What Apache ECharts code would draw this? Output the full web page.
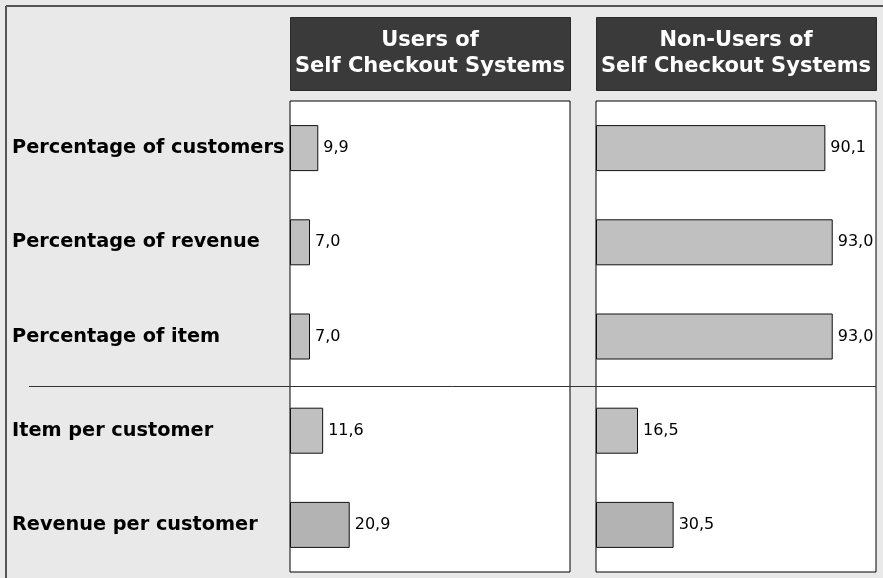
<!DOCTYPE html>
<html>
<head>
<meta charset="utf-8">
<script src="https://cdn.jsdelivr.net/npm/echarts@6/dist/echarts.min.js"></script>
<style>
html,body{margin:0;padding:0;background:#e9e9e9;}
#c{width:883px;height:578px;}
</style>
</head>
<body>
<div id="c"></div>
<script>
var categories = ["Percentage of customers", "Percentage of revenue", "Percentage of item", "Item per customer", "Revenue per customer"];
var usersValues = [9.9, 7.0, 7.0, 11.6, 20.9];
var nonUsersValues = [90.1, 93.0, 93.0, 16.5, 30.5];
var panelTitles = ["Users of\nSelf Checkout Systems", "Non-Users of\nSelf Checkout Systems"];

var chart = echarts.init(document.getElementById('c'), null, {renderer: 'canvas'});

function fmt(p) { return p.value.toFixed(1).replace('.', ','); }
function barColor(p) { return p.dataIndex === categories.length - 1 ? '#b3b3b3' : '#c0c0c0'; }

function makeSeries(idx, values) {
  return {
    type: 'bar',
    xAxisIndex: idx,
    yAxisIndex: idx,
    data: values,
    barWidth: 46,
    itemStyle: {color: barColor, borderColor: '#111', borderWidth: 1},
    label: {
      show: true, position: 'right', distance: 5, formatter: fmt,
      color: '#000', fontFamily: 'DejaVu Sans', fontSize: 16
    },
    silent: true,
    animation: false
  };
}

var gridTop = 101, gridBottom = 6;
var option = {
  backgroundColor: '#e9e9e9',
  animation: false,
  grid: [
    {left: 290, right: 313, top: gridTop, bottom: gridBottom, show: true, backgroundColor: '#fff', borderColor: '#000', borderWidth: 1},
    {left: 596, right: 7, top: gridTop, bottom: gridBottom, show: true, backgroundColor: '#fff', borderColor: '#000', borderWidth: 1}
  ],
  xAxis: [
    {gridIndex: 0, type: 'value', min: 0, max: 98, show: false},
    {gridIndex: 1, type: 'value', min: 0, max: 110, show: false}
  ],
  yAxis: [
    {gridIndex: 0, type: 'category', data: categories, inverse: true,
     axisLine: {show: false}, axisTick: {show: false},
     axisLabel: {show: true, align: 'left', margin: 278, color: '#000', fontFamily: 'DejaVu Sans', fontWeight: 'bold', fontSize: 19.3}},
    {gridIndex: 1, type: 'category', data: categories, inverse: true,
     axisLine: {show: false}, axisTick: {show: false}, axisLabel: {show: false}}
  ],
  series: [makeSeries(0, usersValues), makeSeries(1, nonUsersValues)],
  graphic: [
    {type: 'line', shape: {x1: 6, y1: 6, x2: 883, y2: 6}, style: {stroke: '#555', lineWidth: 2}, z: 100},
    {type: 'line', shape: {x1: 6, y1: 6, x2: 6, y2: 578}, style: {stroke: '#555', lineWidth: 2}, z: 100},
    {type: 'line', shape: {x1: 29, y1: 386.5, x2: 876, y2: 386.5}, style: {stroke: '#333', lineWidth: 1}, z: 100},
    {type: 'rect', shape: {x: 290.5, y: 17.5, width: 280, height: 73}, style: {fill: '#3a3a3a', stroke: '#2a2a2a', lineWidth: 1}, z: 100},
    {type: 'text', x: 430, y: 54, style: {text: panelTitles[0], fill: '#fff', font: 'bold 21px "DejaVu Sans"', lineHeight: 26, align: 'center', verticalAlign: 'middle'}, z: 101},
    {type: 'rect', shape: {x: 596.5, y: 17.5, width: 280, height: 73}, style: {fill: '#3a3a3a', stroke: '#2a2a2a', lineWidth: 1}, z: 100},
    {type: 'text', x: 736, y: 54, style: {text: panelTitles[1], fill: '#fff', font: 'bold 21px "DejaVu Sans"', lineHeight: 26, align: 'center', verticalAlign: 'middle'}, z: 101}
  ]
};
chart.setOption(option);
</script>
</body>
</html>
